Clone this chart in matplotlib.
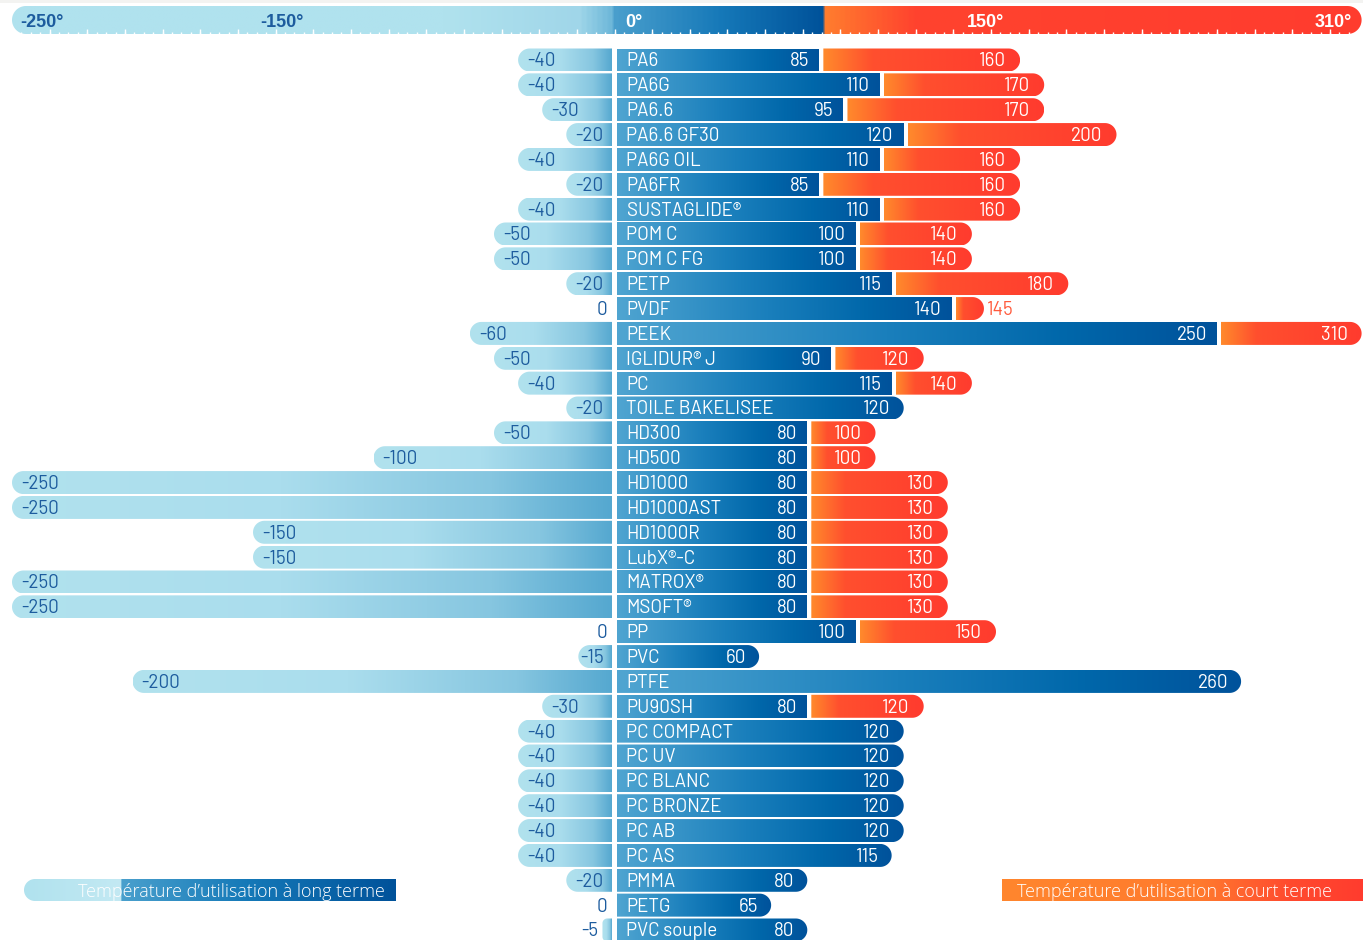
import matplotlib
matplotlib.use('Agg')
import matplotlib.pyplot as plt
import numpy as np
from matplotlib.path import Path
from matplotlib.patches import PathPatch
from matplotlib.colors import LinearSegmentedColormap
from matplotlib import font_manager as fm

# ---------------- data ----------------
materials = ["PA6", "PA6G", "PA6.6", "PA6.6 GF30", "PA6G OIL", "PA6FR", "SUSTAGLIDE®",
             "POM C", "POM C FG", "PETP", "PVDF", "PEEK", "IGLIDUR® J", "PC",
             "TOILE BAKELISEE", "HD300", "HD500", "HD1000", "HD1000AST", "HD1000R",
             "LubX®-C", "MATROX®", "MSOFT®", "PP", "PVC", "PTFE", "PU90SH",
             "PC COMPACT", "PC UV", "PC BLANC", "PC BRONZE", "PC AB", "PC AS",
             "PMMA", "PETG", "PVC souple"]
long_min = [-40, -40, -30, -20, -40, -20, -40, -50, -50, -20, 0, -60, -50, -40,
            -20, -50, -100, -250, -250, -150, -150, -250, -250, 0, -15, -200, -30,
            -40, -40, -40, -40, -40, -40, -20, 0, -5]
long_max = [85, 110, 95, 120, 110, 85, 110, 100, 100, 115, 140, 250, 90, 115,
            120, 80, 80, 80, 80, 80, 80, 80, 80, 100, 60, 260, 80,
            120, 120, 120, 120, 120, 115, 80, 65, 80]
short_max = [160, 170, 170, 200, 160, 160, 160, 140, 140, 180, 145, 310, 120, 140,
             None, 100, 100, 130, 130, 130, 130, 130, 130, 150, None, None, 120,
             None, None, None, None, None, None, None, None, None]
scale_values = [-250, -150, 0, 150, 310]
scale_labels = ["-250°", "-150°", "0°", "150°", "310°"]
legend_long = "Température d’utilisation à long terme"
legend_short = "Température d’utilisation à court terme"

# ---------------- fonts ----------------
avail = {f.name for f in fm.fontManager.ttflist}

def pick(cands, default="DejaVu Sans"):
    for c in cands:
        if c in avail:
            return c
    return default

COND = dict(fontfamily=[pick(["Barlow", "Barlow Semi Condensed", "Asap Condensed",
                               "Liberation Sans Narrow"]), "DejaVu Sans"])
BOLD = dict(fontfamily=[pick(["Liberation Sans", "Arimo"]), "DejaVu Sans"])
LEG = dict(fontfamily=[pick(["Open Sans", "Lato"]), "DejaVu Sans"])

# ---------------- layout ----------------
W, H = 1363, 940
X0PX, KX = 614.5, 2.41      # pixel of 0°, pixels per degree
ROW0, KY = 60.0, 24.857     # pixel of first row, pixels per row
fig = plt.figure(figsize=(W / 100, H / 100), dpi=100)
ax = fig.add_axes([0, 0, 1, 1])
ax.axis('off')

def dx(px):
    return px / KX

def dy(px):
    return px / KY

def rounded(x0, x1, yc, hpx, rl, rr):
    """Rounded rectangle in data coords; radii given in pixels."""
    h = dy(hpx)
    yt, yb = yc - h / 2, yc + h / 2
    wpx = (x1 - x0) * KX
    rl = min(rl, wpx / 2, hpx / 2)
    rr = min(rr, wpx / 2, hpx / 2)
    verts = []
    n = 16
    if rr > 0:
        rx, ry = dx(rr), dy(rr)
        for t in np.linspace(-np.pi / 2, 0, n):
            verts.append((x1 - rx + rx * np.cos(t), yt + ry + ry * np.sin(t)))
        for t in np.linspace(0, np.pi / 2, n):
            verts.append((x1 - rx + rx * np.cos(t), yb - ry + ry * np.sin(t)))
    else:
        verts += [(x1, yt), (x1, yb)]
    if rl > 0:
        rx, ry = dx(rl), dy(rl)
        for t in np.linspace(np.pi / 2, np.pi, n):
            verts.append((x0 + rx + rx * np.cos(t), yb - ry + ry * np.sin(t)))
        for t in np.linspace(np.pi, 1.5 * np.pi, n):
            verts.append((x0 + rx + rx * np.cos(t), yt + ry + ry * np.sin(t)))
    else:
        verts += [(x0, yb), (x0, yt)]
    verts.append(verts[0])
    codes = [Path.MOVETO] + [Path.LINETO] * (len(verts) - 2) + [Path.CLOSEPOLY]
    return Path(verts, codes), yt, yb

def gbar(x0, x1, yc, hpx, rl, rr, cmap, z=2):
    path, yt, yb = rounded(x0, x1, yc, hpx, rl, rr)
    patch = PathPatch(path, fc='none', ec='none')
    ax.add_patch(patch)
    img = np.linspace(0, 1, 512).reshape(1, -1)
    im = ax.imshow(img, cmap=cmap, extent=(x0, x1, yb, yt), aspect='auto',
                   interpolation='bilinear', zorder=z)
    im.set_clip_path(patch)

def txt(x, y, s, offx, ha, color, size=13.5, base=6.5, weight='normal', font=COND):
    ax.annotate(s, xy=(x, y), xytext=(offx, -base), textcoords='offset pixels',
                ha=ha, va='baseline', color=color, fontsize=size,
                fontweight=weight, zorder=10, **font)

light_cmap = LinearSegmentedColormap.from_list(
    'light', [(0, '#b1e2ee'), (0.45, '#aadded'), (0.8, '#86c6e0'), (1, '#55a8d0')])
dark_cmap = LinearSegmentedColormap.from_list(
    'dark', [(0, '#50a5d1'), (0.45, '#1a7fbc'), (0.75, '#0067aa'), (1, '#00529b')])
orange_cmap = LinearSegmentedColormap.from_list(
    'orange', [(0, '#ff8a2c'), (0.25, '#ff4f2e'), (1, '#ff3b2e')])

BLUE_TXT = '#1d5c9e'
BH = 23.0
GAP = 2.5
R = 11.5
CAP = 20.0
XMAX = scale_values[-1]

# ---------------- rows ----------------
for i, (name, lo, hi, sh) in enumerate(zip(materials, long_min, long_max, short_max)):
    y = i
    # negative (light) bar
    if lo < 0:
        x0, x1 = lo, -dx(GAP)
        gbar(x0, x1, y, BH, R, 0, light_cmap)
        wpx = (x1 - x0) * KX
        if wpx >= 45:
            txt(lo, y, str(lo), 9, 'left', BLUE_TXT)
        elif wpx >= 30:
            txt(lo, y, str(lo), 2, 'left', BLUE_TXT)
        else:
            txt(lo, y, str(lo), -4, 'right', BLUE_TXT)
    else:
        txt(0, y, str(lo), -7, 'right', BLUE_TXT)
    # long-term (dark) bar
    gbar(dx(GAP), hi, y, BH, 0, R if sh is None else 0, dark_cmap)
    txt(0, y, name, 12, 'left', 'white')
    txt(hi, y, str(hi), -10 if sh is not None else -13, 'right', 'white')
    # short-term (orange) bar
    if sh is not None:
        s0 = hi + dx(4)
        s1 = min(sh + dx(CAP), XMAX)
        gbar(s0, s1, y, BH, 0, R, orange_cmap)
        if (s1 - s0) * KX < 45:
            txt(s1, y, str(sh), 3, 'left', '#ff5a3c')
        else:
            txt(s1, y, str(sh), -14, 'right', 'white')

# ---------------- top scale ----------------
SCALE_Y = (20 - ROW0) / KY
smin, smax = scale_values[0], scale_values[-1]
def spos(v):
    return (v - smin) / (smax - smin)
scale_cmap = LinearSegmentedColormap.from_list('scale', [
    (0, '#b0e2ee'), (spos(-70), '#b0e2ee'), (spos(-15), '#a0d6e9'),
    (spos(-0.5), '#6ab5d8'), (spos(0), '#4a9fcd'), (spos(45), '#1578b8'),
    (spos(86), '#00529a'), (spos(86.5), '#ff7f2e'), (spos(125), '#ff432e'),
    (1, '#ff3c2e')])
gbar(smin, smax, SCALE_Y, 28, 14, 14, scale_cmap, z=2)

major = np.arange(smin, smax + 1e-6, 15.625)
minor = np.arange(smin, smax + 1e-6, 15.625 / 4)
ybot = SCALE_Y + dy(14)
for m in minor:
    if smin + dx(4) < m < smax - dx(6):
        ax.plot([m, m], [ybot - dy(1.8), ybot], color='white', lw=1.0, zorder=4,
                solid_capstyle='butt')
for m in major:
    if smin + dx(4) < m < smax - dx(6):
        ax.plot([m, m], [ybot - dy(4.5), ybot], color='white', lw=1.0, zorder=4,
                solid_capstyle='butt')

scale_offsets = [8, 7, 11, -9, -10]
scale_ha = ['left', 'left', 'left', 'left', 'right']
scale_colors = [BLUE_TXT, BLUE_TXT, 'white', 'white', 'white']
for v, s, o, ha, c in zip(scale_values, scale_labels, scale_offsets, scale_ha, scale_colors):
    txt(v, SCALE_Y, s, o, ha, c, size=13, base=7, weight='bold', font=BOLD)

ax.set_xlim(-X0PX / KX, (W - X0PX) / KX)
ax.set_ylim((H - ROW0) / KY, -ROW0 / KY)

# ---------------- legend (pixel overlay) ----------------
lax = fig.add_axes([0, 0, 1, 1], zorder=5)
lax.axis('off')
lax.set_xlim(0, W)
lax.set_ylim(H, 0)
lax.add_patch(plt.Rectangle((0, 0), W, 3, color='#f3f3f1', lw=0, zorder=1))

def lbox(x0, x1, y0, y1, rl, cmap):
    n = 16
    verts = [(x1, y0), (x1, y1)]
    if rl > 0:
        for t in np.linspace(np.pi / 2, 1.5 * np.pi, 2 * n):
            verts.append((x0 + rl + rl * np.cos(t), (y0 + y1) / 2 + rl * np.sin(t)))
    else:
        verts += [(x0, y1), (x0, y0)]
    verts.append(verts[0])
    codes = [Path.MOVETO] + [Path.LINETO] * (len(verts) - 2) + [Path.CLOSEPOLY]
    patch = PathPatch(Path(verts, codes), fc='none', ec='none')
    lax.add_patch(patch)
    img = np.linspace(0, 1, 512).reshape(1, -1)
    im = lax.imshow(img, cmap=cmap, extent=(x0, x1, y1, y0), aspect='auto',
                    interpolation='bilinear', zorder=2)
    im.set_clip_path(patch)

leg_long_cmap = LinearSegmentedColormap.from_list('ll', [
    (0, '#b0e2ee'), (0.26, '#c3e9f3'), (0.262, '#4aa0cd'), (0.6, '#1579b8'), (1, '#00529a')])
leg_short_cmap = LinearSegmentedColormap.from_list('ls', [
    (0, '#ff862d'), (0.55, '#ff7a2e'), (0.8, '#ff4a2e'), (1, '#ff3c2e')])
lbox(24, 396, 879, 901, 11, leg_long_cmap)
lbox(1002, 1363, 879, 901, 0, leg_short_cmap)
lax.text(78, 897, legend_long, color='white', fontsize=13, ha='left', va='baseline',
         zorder=5, fontweight='light', **LEG)
lax.text(1017, 897, legend_short, color='white', fontsize=13, ha='left', va='baseline',
         zorder=5, fontweight='light', **LEG)

fig.savefig('out.png', dpi=100)
